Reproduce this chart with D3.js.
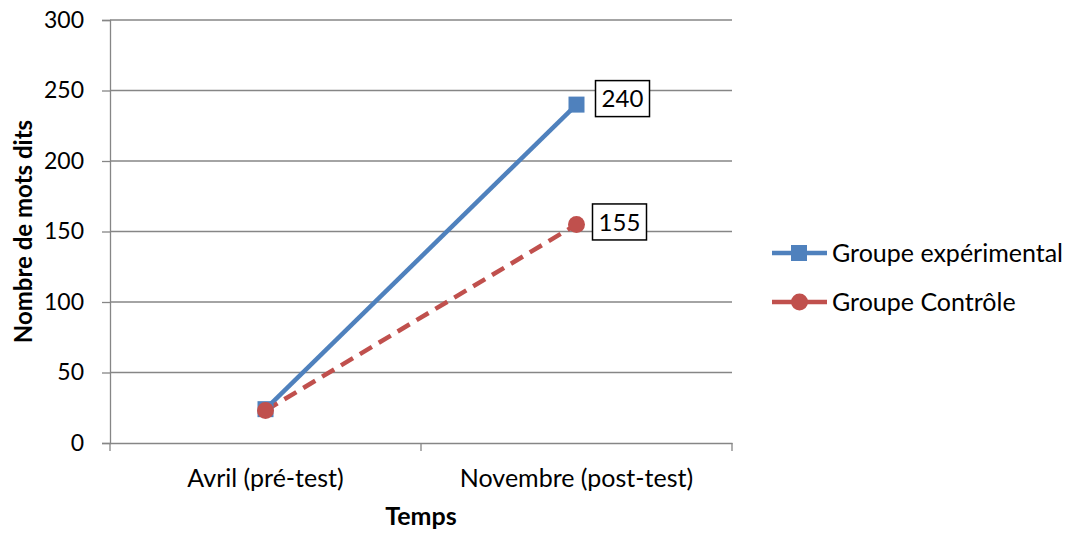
<!DOCTYPE html>
<html>
<head>
<meta charset="utf-8">
<script src="https://cdn.jsdelivr.net/npm/d3@7"></script>
<style>
  html, body { margin: 0; padding: 0; background: #fff; }
  text { font-family: Lato, "Open Sans", sans-serif; fill: #000; }
</style>
</head>
<body>
<svg id="chart" width="1069" height="534"></svg>
<script>
// Data
const categories = ["Avril (pré-test)", "Novembre (post-test)"];
const seriesNames = ["Groupe expérimental", "Groupe Contrôle"];
const experimental = [24, 240];
const controle = [23, 155];
const yTicks = [0, 50, 100, 150, 200, 250, 300];

const FONT = "Lato, 'Open Sans', sans-serif";
const svg = d3.select("#chart");
const plot = { left: 110, right: 732, top: 20, bottom: 443 };

const x = d3.scaleBand().domain(categories).range([plot.left, plot.right]);
const y = d3.scaleLinear().domain([0, 300]).range([plot.bottom, plot.top]);
const cx = c => x(c) + x.bandwidth() / 2;

// Horizontal gridlines
svg.append("g").selectAll("line").data(yTicks.filter(t => t > 0)).join("line")
  .attr("x1", plot.left).attr("x2", plot.right)
  .attr("y1", d => y(d)).attr("y2", d => y(d))
  .attr("stroke", "#868686").attr("stroke-width", 1.3);

// Y axis
const yAxis = svg.append("g").attr("transform", `translate(${plot.left},0)`)
  .call(d3.axisLeft(y).tickValues(yTicks).tickSize(8).tickPadding(18));
yAxis.select(".domain").attr("stroke", "#868686").attr("stroke-width", 1.3);
yAxis.selectAll(".tick line").attr("stroke", "#868686").attr("stroke-width", 1.3);
yAxis.selectAll(".tick text").attr("font-size", 23).attr("font-family", FONT);

// X axis
const xAxis = svg.append("g").attr("transform", `translate(0,${plot.bottom})`)
  .call(d3.axisBottom(x).tickSize(0).tickPadding(26));
xAxis.select(".domain").attr("stroke", "#868686").attr("stroke-width", 1.3);
xAxis.selectAll(".tick text").attr("font-size", 25).attr("font-family", FONT);
// Category boundary ticks
const bounds = [plot.left, x(categories[1]), plot.right];
svg.append("g").selectAll("line").data(bounds).join("line")
  .attr("x1", d => d).attr("x2", d => d)
  .attr("y1", plot.bottom).attr("y2", plot.bottom + 8)
  .attr("stroke", "#868686").attr("stroke-width", 1.3);

// Lines
const line = d3.line().x((d, i) => cx(categories[i])).y(d => y(d));
svg.append("path").datum(experimental).attr("d", line)
  .attr("fill", "none").attr("stroke", "#4F81BD").attr("stroke-width", 4.5);
svg.append("path").datum(controle).attr("d", line)
  .attr("fill", "none").attr("stroke", "#C0504D").attr("stroke-width", 4.5)
  .attr("stroke-dasharray", "14,8");

// Markers
svg.append("g").selectAll("rect").data(experimental).join("rect")
  .attr("x", (d, i) => cx(categories[i]) - 8).attr("y", d => y(d) - 8)
  .attr("width", 16).attr("height", 16).attr("fill", "#4F81BD");
svg.append("g").selectAll("circle").data(controle).join("circle")
  .attr("cx", (d, i) => cx(categories[i])).attr("cy", d => y(d))
  .attr("r", 8.5).attr("fill", "#C0504D");

// Boxed value labels on the last point
function valueLabel(v, dx, dy) {
  const px = cx(categories[1]) + dx, py = y(v) + dy;
  const g = svg.append("g");
  g.append("rect").attr("x", px).attr("y", py - 18)
    .attr("width", 54).attr("height", 36)
    .attr("fill", "#fff").attr("stroke", "#000").attr("stroke-width", 1.5);
  g.append("text").attr("x", px + 27).attr("y", py).attr("dy", "0.36em")
    .attr("text-anchor", "middle").attr("font-size", 24).text(v);
}
valueLabel(experimental[1], 19, -6);
valueLabel(controle[1], 16, -2.5);

// Axis titles
svg.append("text").attr("x", (plot.left + plot.right) / 2).attr("y", 525)
  .attr("text-anchor", "middle").attr("font-size", 25).attr("font-weight", "bold").text("Temps");
svg.append("text").attr("transform", `translate(32,${(plot.top + plot.bottom) / 2}) rotate(-90)`)
  .attr("text-anchor", "middle").attr("font-size", 24).attr("font-weight", "bold").text("Nombre de mots dits");

// Legend
const legend = svg.append("g");
seriesNames.forEach((name, i) => {
  const ly = 253 + i * 49;
  const color = i === 0 ? "#4F81BD" : "#C0504D";
  legend.append("line").attr("x1", 772).attr("x2", 827).attr("y1", ly).attr("y2", ly)
    .attr("stroke", color).attr("stroke-width", 4.5);
  if (i === 0) {
    legend.append("rect").attr("x", 791).attr("y", ly - 8).attr("width", 16).attr("height", 16).attr("fill", color);
  } else {
    legend.append("circle").attr("cx", 799.5).attr("cy", ly).attr("r", 8.5).attr("fill", color);
  }
  legend.append("text").attr("x", 832).attr("y", ly).attr("dy", "0.35em")
    .attr("font-size", 25).text(name);
});
</script>
</body>
</html>
